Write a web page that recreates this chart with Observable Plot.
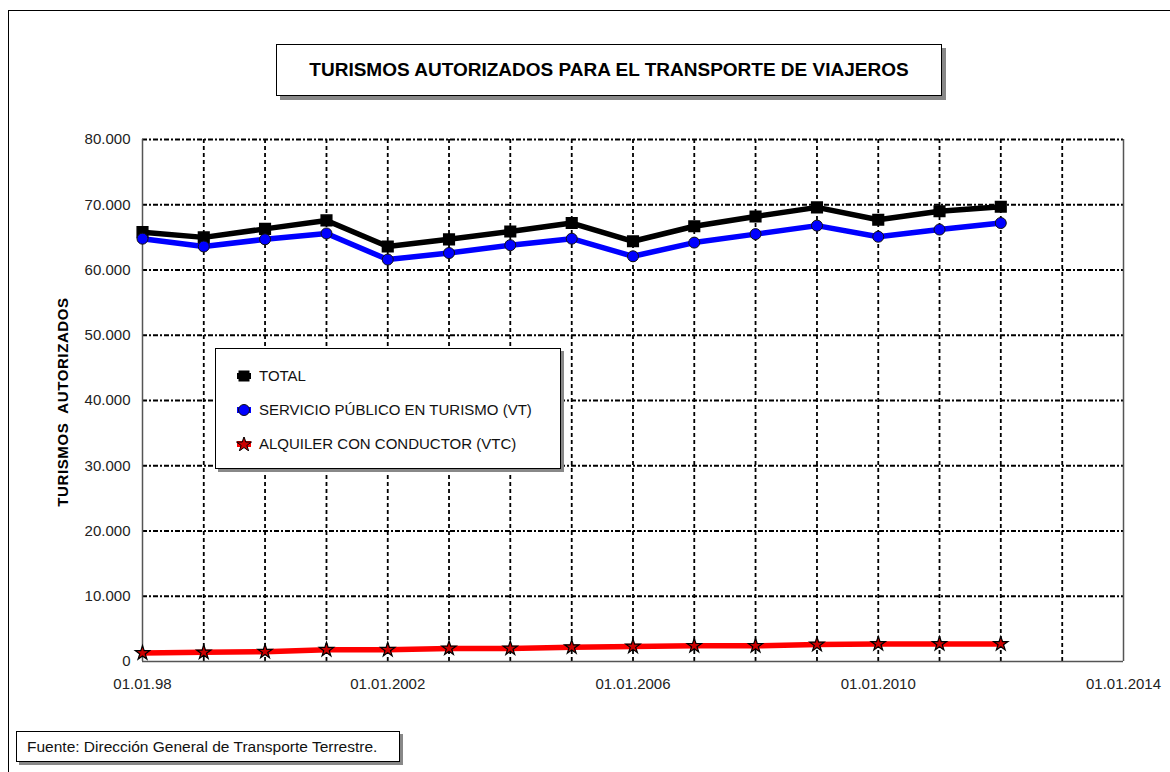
<!DOCTYPE html>
<html><head><meta charset="utf-8">
<script src="https://cdn.jsdelivr.net/npm/d3@7"></script>
<script src="https://cdn.jsdelivr.net/npm/@observablehq/plot@0.6"></script>
<style>
body{margin:0;background:#fff;font-family:"Liberation Sans",Arial,sans-serif;}
#wrap{position:relative;width:1170px;height:772px;overflow:hidden;background:#fff;}
#frame{position:absolute;left:8px;top:10px;width:1200px;height:800px;border-left:1px solid #000;border-top:1px solid #000;}
#title{position:absolute;left:276px;top:44px;width:664px;height:50px;border:1px solid #000;background:#fff;box-shadow:4px 4px 0 #888;
 display:flex;align-items:center;justify-content:center;font-weight:bold;font-size:19px;color:#000;}
#chart{position:absolute;left:0;top:0;}
#ylabel{position:absolute;left:62px;top:402px;transform:translate(-50%,-50%) rotate(-90deg);font-weight:bold;font-size:15px;letter-spacing:0.6px;white-space:pre;color:#000;}
#legend{position:absolute;left:215px;top:348px;width:344px;height:119px;border:1px solid #000;background:#fff;box-shadow:3px 3px 0 #888;}
.li{position:absolute;left:20px;font-size:15px;color:#111;display:flex;align-items:center;white-space:nowrap;}
.li svg{margin-right:7px;}
#source{position:absolute;left:16px;top:731px;width:384px;height:31px;border:1px solid #000;background:#fff;box-shadow:3px 3px 0 #888;
 font-size:15.5px;color:#111;display:flex;align-items:center;padding-left:10px;box-sizing:border-box;white-space:nowrap;}
</style></head><body>
<div id="wrap">
 <div id="frame"></div>
 <div id="title">TURISMOS AUTORIZADOS PARA EL TRANSPORTE DE VIAJEROS</div>
 <div id="chart"></div>
 <div id="ylabel">TURISMOS  AUTORIZADOS</div>
 <div id="legend"></div>
 <div id="source">Fuente: Dirección General de Transporte Terrestre.</div>
</div>
<script>
// ---- data ----
const years = [1998,1999,2000,2001,2002,2003,2004,2005,2006,2007,2008,2009,2010,2011,2012];
const total = [65800,65000,66300,67600,63600,64700,65900,67200,64400,66700,68200,69600,67700,69000,69700];
const vt    = [64800,63600,64700,65600,61600,62600,63800,64800,62100,64200,65500,66800,65100,66200,67200];
const vtc   = [1300,1400,1500,1800,1800,2000,2000,2200,2300,2400,2400,2600,2700,2700,2700];
const seriesNames = ["TOTAL","SERVICIO PÚBLICO EN TURISMO (VT)","ALQUILER CON CONDUCTOR (VTC)"];
const xTickYears = [1998,2002,2006,2010,2014];
const xTickLabels = ["01.01.98","01.01.2002","01.01.2006","01.01.2010","01.01.2014"];
const gridYears = [1999,2000,2001,2002,2003,2004,2005,2006,2007,2008,2009,2010,2011,2012,2013];
const yTicks = [0,10000,20000,30000,40000,50000,60000,70000,80000];
const yTickLabels = ["0","10.000","20.000","30.000","40.000","50.000","60.000","70.000","80.000"];

const D = y => new Date(Date.UTC(y,0,1));
const rows = (vals) => years.map((y,i)=>({date:D(y), value:vals[i]}));
const tData = rows(total), vData = rows(vt), rData = rows(vtc);

const chart = Plot.plot({
  width:1170, height:700,
  marginLeft:142, marginRight:47, marginTop:139, marginBottom:39,
  style:{fontFamily:"'Liberation Sans', Arial, sans-serif", fontSize:"15px", color:"#222", background:"transparent"},
  x:{type:"utc", domain:[D(1998),D(2014)]},
  y:{domain:[0,80000]},
  marks:[
    Plot.ruleY(yTicks.filter(d=>d>0), {y:d=>d, stroke:"#000", strokeWidth:1.8, strokeDasharray:"5,2,2,2"}),
    Plot.ruleX(gridYears.map(D), {x:d=>d, stroke:"#000", strokeWidth:1.8, strokeDasharray:"4,3"}),
    Plot.ruleX([D(1998)], {stroke:"#555", strokeWidth:1.5}),
    Plot.ruleX([D(2014)], {stroke:"#555", strokeWidth:1.5}),
    Plot.ruleY([0], {stroke:"#555", strokeWidth:1.5}),
    Plot.axisX(xTickYears.map(D), {tickSize:0, tickPadding:17, tickFormat:(d,i)=>xTickLabels[i], fontSize:15}),
    Plot.axisY(yTicks, {tickSize:0, tickPadding:12, tickFormat:(d,i)=>yTickLabels[i], label:null, fontSize:15}),
    Plot.line(rData, {x:"date", y:"value", stroke:"#ff0000", strokeWidth:5.5}),
    Plot.line(vData, {x:"date", y:"value", stroke:"#0000ff", strokeWidth:5.5}),
    Plot.line(tData, {x:"date", y:"value", stroke:"#000", strokeWidth:5.5}),
    Plot.dot(tData, {x:"date", y:"value", symbol:"square", r:6, fill:"#000", stroke:"#000"}),
    Plot.dot(vData, {x:"date", y:"value", symbol:"circle", r:5.5, fill:"#0000ff", stroke:"#111", strokeWidth:1}),
    Plot.dot(rData, {x:"date", y:"value", symbol:"star", r:4.5, fill:"#c00", stroke:"#000", strokeWidth:1.2})
  ]
});
document.getElementById("chart").appendChild(chart);

// legend
const icons = [
  `<svg width="16" height="14"><rect x="1" y="4" width="14" height="6" fill="#000"/><rect x="2.5" y="1.5" width="11" height="11" fill="#000"/></svg>`,
  `<svg width="16" height="14"><rect x="1" y="4" width="14" height="6" fill="#0000ff"/><circle cx="8" cy="7" r="5.5" fill="#0000ff" stroke="#111"/></svg>`,
  `<svg width="16" height="14"><rect x="1" y="4" width="14" height="6" fill="#ff0000"/><path d="${d3.symbol(d3.symbolStar, 70)()}" transform="translate(8,7.5)" fill="#c00" stroke="#000"/></svg>`
];
const lg = document.getElementById("legend");
seriesNames.forEach((n,i)=>{
  const d = document.createElement("div");
  d.className="li"; d.style.top = (18 + i*34) + "px";
  d.innerHTML = icons[i] + `<span>${n}</span>`;
  lg.appendChild(d);
});
</script>
</body></html>
